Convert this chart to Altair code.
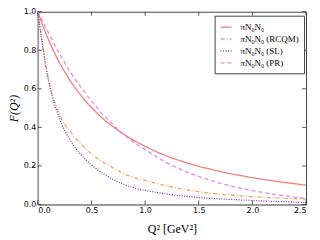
import altair as alt
import pandas as pd

q2 = [0.0, 0.1, 0.2, 0.3, 0.4, 0.5, 0.6, 0.7, 0.8, 0.9, 1.0, 1.1, 1.2,
      1.3, 1.4, 1.5, 1.6, 1.7, 1.8, 1.9, 2.0, 2.1, 2.2, 2.3, 2.4, 2.5]

f_main = [1.0, 0.854, 0.738, 0.644, 0.567, 0.503, 0.449, 0.404, 0.365, 0.331,
          0.302, 0.275, 0.252, 0.232, 0.214, 0.198, 0.184, 0.171, 0.159, 0.149,
          0.139, 0.130, 0.122, 0.114, 0.107, 0.100]
f_rcqm = [1.0, 0.65, 0.47, 0.38, 0.315, 0.262, 0.222, 0.19, 0.16, 0.139,
          0.125, 0.11, 0.096, 0.085, 0.075, 0.066, 0.059, 0.053, 0.048, 0.044,
          0.040, 0.037, 0.034, 0.032, 0.030, 0.028]
f_sl = [1.0, 0.64, 0.45, 0.335, 0.26, 0.205, 0.163, 0.13, 0.104, 0.086,
        0.073, 0.063, 0.054, 0.047, 0.041, 0.036, 0.032, 0.029, 0.026, 0.023,
        0.021, 0.018, 0.016, 0.014, 0.012, 0.010]
f_pr = [1.0, 0.89, 0.785, 0.69, 0.61, 0.537, 0.47, 0.415, 0.365, 0.32,
        0.285, 0.25, 0.217, 0.19, 0.165, 0.145, 0.127, 0.11, 0.095, 0.083,
        0.072, 0.062, 0.053, 0.045, 0.038, 0.032]

labels = ["πN₀N₀", "πN₀N₀ (RCQM)", "πN₀N₀ (SL)", "πN₀N₀ (PR)"]
colors = ["#f47c7c", "#f2a660", "#7a45aa", "#ee82ee"]
dashes = [[1, 0], [4, 2, 1, 2], [1, 1.5], [4, 3]]

x_ticks = [0.0, 0.5, 1.0, 1.5, 2.0, 2.5]
y_ticks = [0.0, 0.2, 0.4, 0.6, 0.8, 1.0]

rows = []
for lab, vals in zip(labels, [f_main, f_rcqm, f_sl, f_pr]):
    for q, v in zip(q2, vals):
        rows.append({"q2": q, "F": v, "series": lab})
df = pd.DataFrame(rows)

W, H = 270, 194

xscale = alt.Scale(domain=[0, 2.5], nice=False, zero=False)
yscale = alt.Scale(domain=[0, 1], nice=False)

xaxis = alt.Axis(values=x_ticks, format=".1f", title="Q²   [GeV²]",
                 grid=False, ticks=False, labelPadding=2,
                 titlePadding=9, titleFont="Liberation Serif",
                 titleFontSize=12, titleFontWeight="normal")
yaxis = alt.Axis(values=y_ticks, format=".1f", title="F(Q²)",
                 grid=False, ticks=False, labelPadding=2,
                 titlePadding=3, titleFont="Liberation Serif",
                 titleFontSize=12, titleFontWeight="normal",
                 titleFontStyle="italic")

leg = alt.Legend(
    title=None, orient="none", legendX=178, legendY=4,
    symbolType="stroke", symbolSize=120, symbolStrokeWidth=1.4,
    labelFont="Liberation Serif", labelFontSize=9, labelColor="black",
    strokeColor="#444", fillColor="white", padding=5, rowPadding=0,
    labelOffset=8, cornerRadius=0,
)

lines = alt.Chart(df).mark_line(strokeWidth=1.3, interpolate="monotone").encode(
    x=alt.X("q2:Q", scale=xscale, axis=xaxis),
    y=alt.Y("F:Q", scale=yscale, axis=yaxis),
    color=alt.Color("series:N", scale=alt.Scale(domain=labels, range=colors),
                    legend=leg),
    strokeDash=alt.StrokeDash("series:N",
                              scale=alt.Scale(domain=labels, range=dashes),
                              legend=leg),
)

xt = pd.DataFrame({"q2": x_ticks})
yt = pd.DataFrame({"F": y_ticks})
tick_color = "#333"
bx = alt.Chart(xt).mark_rule(color=tick_color, strokeWidth=0.8).encode(
    x=alt.X("q2:Q", scale=xscale, axis=xaxis), y=alt.value(H), y2=alt.value(H - 4))
tx = alt.Chart(xt).mark_rule(color=tick_color, strokeWidth=0.8).encode(
    x=alt.X("q2:Q", scale=xscale, axis=xaxis), y=alt.value(0), y2=alt.value(4))
ly = alt.Chart(yt).mark_rule(color=tick_color, strokeWidth=0.8).encode(
    y=alt.Y("F:Q", scale=yscale, axis=yaxis), x=alt.value(0), x2=alt.value(4))
ry = alt.Chart(yt).mark_rule(color=tick_color, strokeWidth=0.8).encode(
    y=alt.Y("F:Q", scale=yscale, axis=yaxis), x=alt.value(W), x2=alt.value(W - 4))

chart = alt.layer(lines, bx, tx, ly, ry).properties(
    width=W, height=H,
    autosize=alt.AutoSizeParams(type="none"),
    padding={"left": 30, "top": 3, "right": 6, "bottom": 30},
).configure_view(
    stroke="#444", strokeWidth=1
).configure_axis(
    labelFont="DejaVu Sans", labelFontSize=8, labelColor="black",
    domainColor="#999", domainWidth=1.6, titleColor="black",
)

chart.save("out.html", embed_options={"renderer": "svg", "actions": False})
